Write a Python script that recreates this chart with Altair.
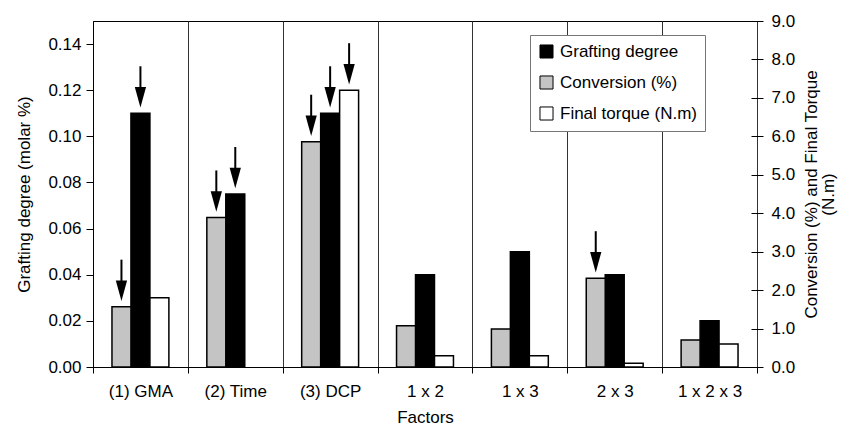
import altair as alt
import pandas as pd

categories = ["(1) GMA", "(2) Time", "(3) DCP", "1 x 2", "1 x 3", "2 x 3", "1 x 2 x 3"]
grafting_degree = [0.110, 0.075, 0.110, 0.040, 0.050, 0.040, 0.020]
conversion = [1.57, 3.89, 5.86, 1.07, 0.99, 2.31, 0.70]
final_torque = [1.80, None, 7.20, 0.29, 0.29, 0.10, 0.60]
arrow_grafting = [1, 1, 1, 0, 0, 0, 0]
arrow_conversion = [1, 1, 1, 0, 0, 1, 0]
arrow_torque = [0, 0, 1, 0, 0, 0, 0]

series_names = ["Grafting degree", "Conversion (%)", "Final torque (N.m)"]
offset_order = ["Conversion (%)", "Grafting degree", "Final torque (N.m)"]
left_ticks = [0.00, 0.02, 0.04, 0.06, 0.08, 0.10, 0.12, 0.14]
right_ticks = [0, 1, 2, 3, 4, 5, 6, 7, 8, 9]

rows = []
for s, vals, arr in [
    ("Grafting degree", grafting_degree, arrow_grafting),
    ("Conversion (%)", conversion, arrow_conversion),
    ("Final torque (N.m)", final_torque, arrow_torque),
]:
    for c, v, a in zip(categories, vals, arr):
        if v is None:
            continue
        rows.append({"category": c, "series": s, "value": v, "arrow": a})
df = pd.DataFrame(rows)

FONT = "Liberation Sans"
FS = 17

x_enc = alt.X(
    "category:N",
    sort=categories,
    scale=alt.Scale(domain=categories, paddingInner=0, paddingOuter=0),
    axis=alt.Axis(
        title="Factors", labelAngle=0, tickBand="extent", grid=True,
        gridColor="#333", gridWidth=1, tickSize=6, tickColor="black",
        domainColor="black", labelPadding=10, titlePadding=10,
    ),
)
xoff_enc = alt.XOffset(
    "series:N", scale=alt.Scale(domain=offset_order, paddingInner=0, paddingOuter=1)
)
color_enc = alt.Color(
    "series:N",
    scale=alt.Scale(domain=series_names, range=["black", "#c4c4c4", "white"]),
    legend=alt.Legend(
        title=None, orient="none", legendX=437, legendY=14,
        symbolType="square", symbolSize=170, symbolStrokeColor="black",
        symbolStrokeWidth=1, symbolOpacity=1, labelFontSize=FS, labelFont=FONT,
        rowPadding=12, fillColor="white", strokeColor="#777", padding=8,
        labelOffset=5,
    ),
)

y_left = alt.Y(
    "value:Q",
    scale=alt.Scale(domain=[0, 0.15], nice=False, zero=True),
    axis=alt.Axis(
        title="Grafting degree (molar %)", orient="left", values=left_ticks,
        format=".2f", grid=False, tickSize=7, labelPadding=5, titlePadding=14,
        tickColor="black", domainColor="black",
    ),
)
y_right = alt.Y(
    "value:Q",
    scale=alt.Scale(domain=[0, 9], nice=False, zero=True),
    axis=alt.Axis(
        title=["Conversion (%) and Final Torque", "(N.m)"], orient="right",
        values=right_ticks, format=".1f", grid=False, domain=False, offset=-6,
        tickSize=12, tickColor="black", labelPadding=8, titlePadding=9,
        titleAngle=270, titleLineHeight=17,
    ),
)

base = alt.Chart(df)
HEAD = "M-0.55,-1L0.55,-1L0,1Z"


def make_layer(filter_expr, y_enc):
    sub = base.transform_filter(filter_expr)
    bars = sub.mark_bar(stroke="black", strokeWidth=1.5, opacity=1).encode(
        x=x_enc, xOffset=xoff_enc, y=y_enc, color=color_enc
    )
    arr = sub.transform_filter("datum.arrow == 1")
    shaft = arr.mark_rule(color="black", strokeWidth=2, yOffset=-47, y2Offset=-24).encode(
        x=x_enc, xOffset=xoff_enc, y=y_enc, y2=alt.Y2("value:Q")
    )
    head = arr.mark_point(
        shape=HEAD, size=420, filled=True, color="black", opacity=1, yOffset=-16
    ).encode(x=x_enc, xOffset=xoff_enc, y=y_enc)
    return alt.layer(bars, shaft, head)


left = make_layer("datum.series == 'Grafting degree'", y_left)
right = make_layer("datum.series != 'Grafting degree'", y_right)

chart = (
    alt.layer(left, right)
    .resolve_scale(y="independent")
    .properties(
        width=664, height=346,
        padding={"left": 93, "top": 21, "right": 92, "bottom": 67},
        autosize=alt.AutoSizeParams(type="none"),
        background="white",
    )
    .configure(font=FONT)
    .configure_view(stroke="black", strokeWidth=1)
    .configure_axis(
        labelFont=FONT, titleFont=FONT, labelFontSize=FS, titleFontSize=FS,
        labelColor="black", titleColor="black", titleFontWeight="normal",
    )
)

chart.save("out.html", embed_options={"renderer": "svg", "actions": False})
